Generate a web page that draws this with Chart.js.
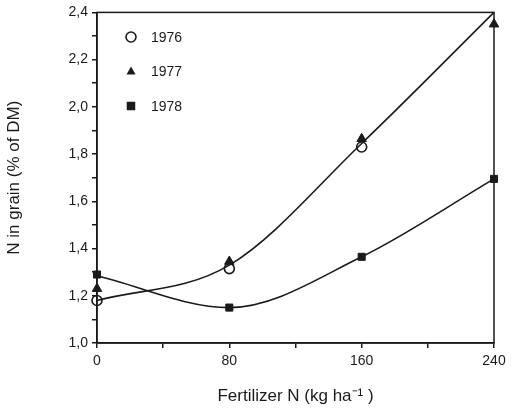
<!DOCTYPE html>
<html>
<head>
<meta charset="utf-8">
<script src="https://cdn.jsdelivr.net/npm/chart.js@4.4.1/dist/chart.umd.min.js"></script>
<style>
  html, body { margin: 0; padding: 0; background: #fff; }
  #wrap { width: 516px; height: 411px; }
</style>
</head>
<body>
<div id="wrap"><canvas id="chartN"></canvas></div>
<script>
// fertilizer rates (kg N / ha)
const fertN = [0, 80, 160, 240];
// N in grain, % of DM
const n1976 = [1.18, 1.315, 1.83, null];
const n1977 = [1.23, 1.345, 1.865, 2.35];
const n1978 = [1.29, 1.15, 1.365, 1.695];
// fitted curves drawn in the figure
const fit7677 = [1.18, 1.33, 1.845, 2.40];
const fit78 = [1.285, 1.15, 1.365, 1.695];
const yTicks = [1.0, 1.2, 1.4, 1.6, 1.8, 2.0, 2.2, 2.4];
const xLabels = [0, 80, 160, 240];

const FONT = "'Liberation Sans', Arial, sans-serif";
const INK = '#1a1a1a';

function pts(arr) {
  return fertN.map((x, i) => ({x: x, y: arr[i]}));
}

const legendItems = [
  {label: '1976', style: 'circle'},
  {label: '1977', style: 'triangle'},
  {label: '1978', style: 'rect'},
];

function marker(ctx, style, x, y, r) {
  ctx.save();
  ctx.fillStyle = INK;
  ctx.strokeStyle = INK;
  ctx.lineWidth = 1.6;
  ctx.beginPath();
  if (style === 'circle') {
    ctx.fillStyle = '#fff';
    ctx.arc(x, y, r, 0, Math.PI * 2);
    ctx.fill();
    ctx.stroke();
  } else if (style === 'triangle') {
    ctx.moveTo(x, y - r);
    ctx.lineTo(x + r * 0.9, y + r * 0.6);
    ctx.lineTo(x - r * 0.9, y + r * 0.6);
    ctx.closePath();
    ctx.fill();
  } else {
    ctx.rect(x - r * 0.85, y - r * 0.85, r * 1.7, r * 1.7);
    ctx.fill();
  }
  ctx.restore();
}

// box round the plot and the legend inside it
const framePlugin = {
  id: 'frame',
  afterDraw(chart) {
    const ctx = chart.ctx;
    const a = chart.chartArea;
    ctx.save();
    ctx.strokeStyle = INK;
    ctx.lineWidth = 1.5;
    ctx.strokeRect(a.left, a.top, a.right - a.left, a.bottom - a.top);
    ctx.font = '14px ' + FONT;
    ctx.fillStyle = INK;
    ctx.textBaseline = 'middle';
    legendItems.forEach((it, i) => {
      const y = 37 + i * 34.5;
      marker(ctx, it.style, 131, y, 5);
      ctx.fillText(it.label, 151, y + 1);
    });
    ctx.restore();
  }
};

const config = {
  type: 'line',
  data: {
    datasets: [
      {label: 'fit 1976/77', data: pts(fit7677), borderColor: INK, borderWidth: 1.6,
        pointRadius: 0, cubicInterpolationMode: 'monotone'},
      {label: 'fit 1978', data: pts(fit78), borderColor: INK, borderWidth: 1.6,
        pointRadius: 0, cubicInterpolationMode: 'monotone'},
      {label: '1977', data: pts(n1977), showLine: false, pointStyle: 'triangle',
        pointRadius: 5.5, backgroundColor: INK, borderColor: INK, borderWidth: 1},
      {label: '1976', data: pts(n1976), showLine: false, pointStyle: 'circle',
        pointRadius: 5, backgroundColor: 'rgba(255,255,255,0)', borderColor: INK, borderWidth: 1.6},
      {label: '1978', data: pts(n1978), showLine: false, pointStyle: 'rect',
        pointRadius: 5, backgroundColor: INK, borderColor: INK, borderWidth: 1},
    ]
  },
  options: {
    responsive: true,
    maintainAspectRatio: false,
    animation: false,
    clip: false,
    layout: {padding: {left: 0, top: 10, right: 22, bottom: 0}},
    plugins: {
      legend: {display: false},
      tooltip: {enabled: false},
    },
    scales: {
      x: {
        type: 'linear',
        min: 0,
        max: 240,
        afterFit: (s) => { s.height = 68; },
        afterBuildTicks: (s) => { s.ticks = [0, 40, 80, 120, 160, 200, 240].map(v => ({value: v})); },
        border: {display: true, color: INK, width: 1.5},
        grid: {drawOnChartArea: false, drawTicks: true, tickLength: 5, color: INK, lineWidth: 1.5},
        ticks: {
          color: INK,
          font: {family: FONT, size: 14},
          padding: 5,
          maxRotation: 0,
          autoSkip: false,
          callback: (v) => xLabels.includes(v) ? String(v) : '',
        },
        title: {
          display: true,
          text: 'Fertilizer N (kg ha\u207B\u00B9 )',
          color: INK,
          font: {family: FONT, size: 17},
          padding: {top: 10},
        },
      },
      y: {
        type: 'linear',
        min: 1.0,
        max: 2.4,
        afterFit: (s) => { s.width = 97; },
        afterBuildTicks: (s) => {
          const t = [];
          for (let i = 0; i <= 14; i++) t.push({value: 1 + i * 0.1});
          s.ticks = t;
        },
        border: {display: true, color: INK, width: 1.5},
        grid: {drawOnChartArea: false, drawTicks: true, tickLength: 5, color: INK, lineWidth: 1.5},
        ticks: {
          color: INK,
          font: {family: FONT, size: 14},
          padding: 4,
          autoSkip: false,
          callback: (v) => {
            const r = Math.round(v * 10) / 10;
            return yTicks.some(t => Math.abs(t - r) < 1e-6) && Math.round(r * 10) % 2 === 0
              ? r.toFixed(1).replace('.', ',') : '';
          },
        },
        title: {
          display: true,
          text: 'N in grain (% of DM)',
          color: INK,
          font: {family: FONT, size: 17},
          padding: {top: 4, bottom: 18},
        },
      },
    }
  },
  plugins: [framePlugin],
};

new Chart(document.getElementById('chartN'), config);
</script>
</body>
</html>
